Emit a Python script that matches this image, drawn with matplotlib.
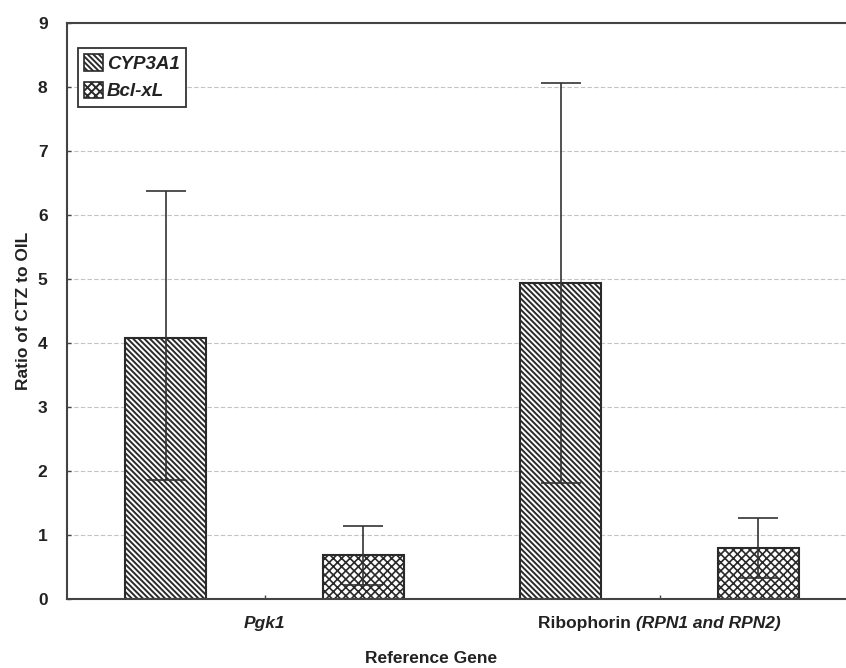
import numpy as np
import matplotlib
matplotlib.use("Agg")
import matplotlib.pyplot as plt
from matplotlib.patches import Patch

plt.rcParams['font.family'] = ['Liberation Sans', 'DejaVu Sans']
plt.rcParams['hatch.linewidth'] = 1.4
plt.rcParams['hatch.color'] = '#2a2a2a'

# Data
groups = ["Pgk1", "Ribophorin"]
series = ["CYP3A1", "Bcl-xL"]
cyp_mean = [4.08, 4.93]
cyp_low = [1.86, 1.81]
cyp_high = [6.37, 8.07]
bcl_mean = [0.68, 0.79]
bcl_low = [0.22, 0.33]
bcl_high = [1.14, 1.27]
yticks = [0, 1, 2, 3, 4, 5, 6, 7, 8, 9]

ink = '#222222'
hatch_cyp = '\\' * 6
hatch_bcl = 'x' * 4

fig = plt.figure(figsize=(8.46, 6.68), dpi=100)
ax = fig.add_axes([67 / 846, 1 - 599 / 668, 1 - 67 / 846, (599 - 23) / 668])

x = np.arange(len(groups))
offset = 0.25
width = 0.205

def draw(pos, mean, low, high, hatch, label, hatch_lw):
    mean = np.asarray(mean)
    yerr = np.vstack([mean - np.asarray(low), np.asarray(high) - mean])
    bars = ax.bar(pos, mean, width, color='white', edgecolor='#2a2a2a', linewidth=1.5,
                  hatch=hatch, zorder=2, label=label)
    for b in bars:
        b.set_hatch_linewidth(hatch_lw)
    ax.errorbar(pos, mean, yerr=yerr, fmt='none', ecolor='#333333',
                elinewidth=1.2, capsize=14.5, capthick=1.2, zorder=3)

draw(x - offset, cyp_mean, cyp_low, cyp_high, hatch_cyp, series[0], 1.4)
draw(x + offset, bcl_mean, bcl_low, bcl_high, hatch_bcl, series[1], 1.2)

ax.set_xlim(-0.5, 1.472)
ax.set_ylim(0, 9)
ax.set_yticks(yticks)
ax.set_yticklabels([str(t) for t in yticks], fontsize=12.5, fontweight='bold', color=ink)
ax.set_xticks(x)
ax.set_xticklabels([])
ax.tick_params(axis='both', direction='in', length=3, width=1, color='#444444')
ax.tick_params(axis='y', pad=14)

ax.yaxis.grid(True, color='#c4c4c4', linestyle=(0, (4, 2)), linewidth=0.8, zorder=0)
ax.set_axisbelow(True)

for side in ['left', 'bottom', 'top']:
    ax.spines[side].set_color('#444444')
    ax.spines[side].set_linewidth(1.5)
ax.spines['right'].set_visible(False)

# Category labels (mixed roman / italic)
lbl_y = -0.03
ax.text(x[0], lbl_y, "Pgk1", transform=ax.get_xaxis_transform(), ha='center', va='top',
        fontsize=12.5, fontweight='bold', style='italic', color=ink)
t1 = ax.text(0, 0, "Ribophorin ", transform=ax.get_xaxis_transform(), ha='left', va='top',
             fontsize=12.5, fontweight='bold', color=ink)
t2 = ax.annotate("(RPN1 and RPN2)", xy=(1, 0), xycoords=t1, ha='left', va='bottom',
                 fontsize=12.5, fontweight='bold', style='italic', color=ink)
fig.canvas.draw()
r = fig.canvas.get_renderer()
w_total = t1.get_window_extent(r).width + t2.get_window_extent(r).width
cx = ax.transData.transform((x[1], 0))[0]
x_left = ax.transAxes.inverted().transform((cx - w_total / 2, 0))[0]
t1.set_transform(ax.transAxes)
t1.set_position((x_left, lbl_y))

ax.text(0.467, -0.09, "Reference Gene", transform=ax.transAxes, ha='center', va='top',
        fontsize=12.5, fontweight='bold', color=ink)
ax.set_ylabel("Ratio of CTZ to OIL", fontsize=12.5, fontweight='bold', color=ink, labelpad=5)

handles = [Patch(facecolor='white', edgecolor='#2a2a2a', hatch=hatch_cyp, linewidth=1.2),
           Patch(facecolor='white', edgecolor='#2a2a2a', hatch=hatch_bcl, linewidth=1.2)]
leg = ax.legend(handles, series, loc='upper left', bbox_to_anchor=(0.014, 0.957),
                prop={'weight': 'bold', 'style': 'italic', 'size': 13.5},
                fancybox=False, framealpha=1, edgecolor='#333333',
                handlelength=1.0, handleheight=1.0, handletextpad=0.2,
                borderpad=0.35, labelspacing=0.45, borderaxespad=0)
leg.get_frame().set_linewidth(1.3)
for t in leg.get_texts():
    t.set_color(ink)

fig.savefig("out.png", dpi=100)
